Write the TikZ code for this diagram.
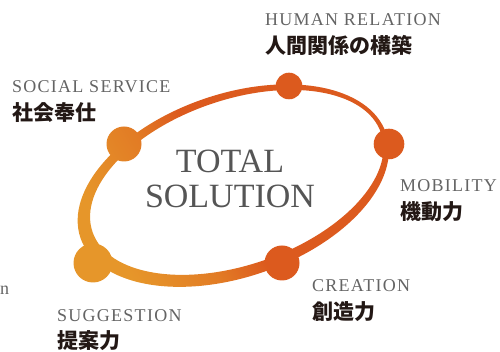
\documentclass[tikz,border=0pt]{standalone}
\usepackage{fontspec}
\setmainfont{Liberation Serif}
\newfontfamily\enfont[LetterSpace=7]{Liberation Serif}
\newfontfamily\jpfont{Noto Sans CJK JP}
\usetikzlibrary{positioning}

\definecolor{ringyellow}{HTML}{E6962A}
\definecolor{ringorange}{HTML}{E27C25}
\definecolor{ringred}{HTML}{DC5A1E}
\definecolor{labelgray}{HTML}{646464}
\definecolor{titlegray}{HTML}{555555}
\definecolor{jpblack}{HTML}{231815}

\pgfdeclarehorizontalshading{ringfade}{100bp}{color(0bp)=(ringyellow); color(28bp)=(ringyellow); color(40bp)=(ringorange); color(48bp)=(ringred); color(100bp)=(ringred)}

\begin{document}
\begin{tikzpicture}[x=1pt, y=1pt,
  eng/.style={font=\enfont\fontsize{18}{18}\selectfont, text=labelgray, inner sep=0pt, anchor=base west},
  jp/.style={font=\jpfont\bfseries\fontsize{21}{21}\selectfont, text=jpblack, inner sep=0pt, anchor=base west},
  title/.style={font=\fontsize{34}{34}\selectfont, text=titlegray, inner sep=0pt, anchor=base}]

\useasboundingbox (0,0) rectangle (500,352);

% the ring, thicker at the lower left
\shade[shading=ringfade, shading angle=30, even odd rule]
  (60,45) (410,290)
  (233.25,166.4) ellipse [x radius=161.5pt, y radius=91.5pt, rotate=19]
  (236.75,169.6) ellipse [x radius=152.5pt, y radius=82.5pt, rotate=19];

% dots on the ring
\coordinate (social) at (124,208);
\coordinate (human) at (289,266);
\coordinate (mobility) at (389,208);
\coordinate (creation) at (282,89);
\coordinate (suggest) at (93,89);

\shade[shading=ringfade, shading angle=30]
  (60,45) (410,290)
  (social) circle [radius=17.5pt]
  (human) circle [radius=13.3pt]
  (mobility) circle [radius=15.3pt]
  (creation) circle [radius=17.5pt]
  (suggest) circle [radius=19.5pt];

\node[title] (total) at (230,179) {TOTAL};
\node[title] (solution) at (230,144) {SOLUTION};

\node[eng] (socialEn) at (12,259) {SOCIAL SERVICE};
\node[jp] (socialJp) at (12,231) {社会奉仕};
\node[eng] (humanEn) at (265,326) {HUMAN RELATION};
\node[jp] (humanJp) at (265,298) {人間関係の構築};
\node[eng] (mobilityEn) at (400,160) {MOBILITY};
\node[jp] (mobilityJp) at (400,132) {機動力};
\node[eng] (creationEn) at (312,60) {CREATION};
\node[jp] (creationJp) at (312,32) {創造力};
\node[eng] (suggestEn) at (57,30) {SUGGESTION};
\node[jp] (suggestJp) at (57,3) {提案力};
\node[eng] (stray) at (0,57) {n};

\end{tikzpicture}
\end{document}
